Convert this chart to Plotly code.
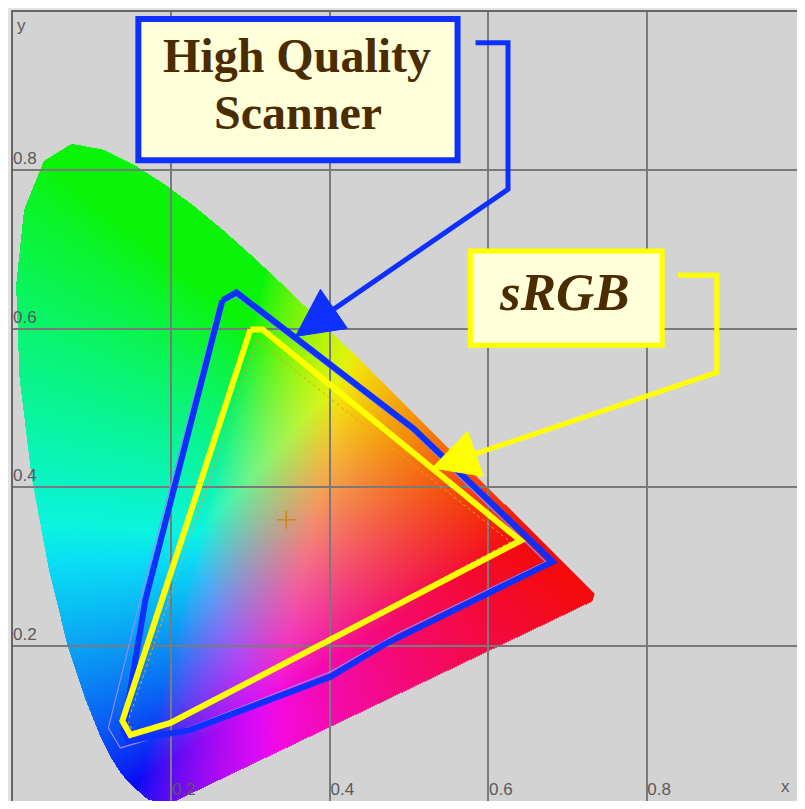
import base64
import struct
import zlib

import numpy as np
import plotly.graph_objects as go

# ---------------- data ----------------
# CIE 1931 spectral locus (chromaticity x, y), 380-700 nm
LOCUS_X = [0.1741, 0.1740, 0.1738, 0.1736, 0.1733, 0.1730, 0.1726, 0.1721, 0.1714, 0.1703,
           0.1689, 0.1669, 0.1644, 0.1611, 0.1566, 0.1510, 0.1440, 0.1355, 0.1241, 0.1096,
           0.0913, 0.0687, 0.0454, 0.0235, 0.0082, 0.0039, 0.0139, 0.0389, 0.0743, 0.1142,
           0.1547, 0.1929, 0.2296, 0.2658, 0.3016, 0.3373, 0.3731, 0.4087, 0.4441, 0.4788,
           0.5125, 0.5448, 0.5752, 0.6029, 0.6270, 0.6482, 0.6658, 0.6801, 0.6915, 0.7006,
           0.7079, 0.7140, 0.7190, 0.7230, 0.7260, 0.7283, 0.7300, 0.7320, 0.7347]
LOCUS_Y = [0.0050, 0.0050, 0.0049, 0.0049, 0.0048, 0.0048, 0.0048, 0.0048, 0.0051, 0.0058,
           0.0069, 0.0086, 0.0109, 0.0138, 0.0177, 0.0227, 0.0297, 0.0399, 0.0578, 0.0868,
           0.1327, 0.2007, 0.2950, 0.4127, 0.5384, 0.6548, 0.7502, 0.8120, 0.8338, 0.8262,
           0.8059, 0.7816, 0.7543, 0.7243, 0.6923, 0.6589, 0.6245, 0.5896, 0.5547, 0.5202,
           0.4866, 0.4544, 0.4242, 0.3965, 0.3725, 0.3514, 0.3340, 0.3197, 0.3083, 0.2993,
           0.2920, 0.2859, 0.2809, 0.2770, 0.2740, 0.2717, 0.2700, 0.2680, 0.2653]
# line of purples as it appears in the picture
PURPLE_X = [0.7316, 0.1930]
PURPLE_Y = [0.2560, -0.0020]

# High quality scanner gamut (thick outline)
SCANNER_X = [0.2644, 0.2821, 0.5057, 0.6814, 0.4678, 0.4009, 0.2240, 0.1457, 0.1394, 0.1672, 0.2644]
SCANNER_Y = [0.6359, 0.6460, 0.4741, 0.3059, 0.2010, 0.1606, 0.0936, 0.0796, 0.0923, 0.2579, 0.6359]
# thin measured scanner outline
SCANNER_THIN_X = [0.2821, 0.5045, 0.6725, 0.4893, 0.4009, 0.2240, 0.1356, 0.1204, 0.1608, 0.2594, 0.2821]
SCANNER_THIN_Y = [0.6410, 0.4703, 0.3059, 0.2174, 0.1669, 0.0973, 0.0708, 0.0961, 0.2579, 0.6309, 0.6410]

# sRGB gamut (thick outline)
SRGB_X = [0.2998, 0.3150, 0.6409, 0.2240, 0.1987, 0.1482, 0.1381, 0.2998]
SRGB_Y = [0.5992, 0.5992, 0.3325, 0.1150, 0.1024, 0.0872, 0.1049, 0.5992]
# thin sRGB outline
SRGB_THIN_X = [0.3080, 0.6280, 0.2050, 0.1520, 0.1450, 0.3080]
SRGB_THIN_Y = [0.5860, 0.3310, 0.1050, 0.0920, 0.1040, 0.5860]

WHITE_X = [0.345]
WHITE_Y = [0.359]

X_TICKS = [0, 0.2, 0.4, 0.6, 0.8]
X_TICK_TEXT = ["0", "0.2", "0.4", "0.6", "0.8"]
Y_TICKS = [0.2, 0.4, 0.6, 0.8]
Y_TICK_TEXT = ["0.2", "0.4", "0.6", "0.8"]

# ---------------- colour rendering of the horseshoe ----------------
IMG_X0, IMG_X1 = 0.0, 0.75
IMG_Y0, IMG_Y1 = -0.01, 0.85
NX, NY = 594, 680

bx = np.array(LOCUS_X + PURPLE_X)
by = np.array(LOCUS_Y + PURPLE_Y)

xs = IMG_X0 + (np.arange(NX) + 0.5) * (IMG_X1 - IMG_X0) / NX
ys = IMG_Y1 - (np.arange(NY) + 0.5) * (IMG_Y1 - IMG_Y0) / NY
GX, GY = np.meshgrid(xs, ys)

inside = np.zeros(GX.shape, dtype=bool)
n = len(bx)
for i in range(n):
    x1, y1 = bx[i], by[i]
    x2, y2 = bx[(i + 1) % n], by[(i + 1) % n]
    cond = (y1 > GY) != (y2 > GY)
    with np.errstate(divide="ignore", invalid="ignore"):
        xint = x1 + (GY - y1) * (x2 - x1) / (y2 - y1)
    inside ^= cond & (GX < xint)

prim = [(0.64, 0.33), (0.30, 0.60), (0.16, 0.03)]
P = np.array([[px / py, 1.0, (1 - px - py) / py] for px, py in prim]).T
W = np.array([0.9505, 1.0, 1.089])
S = np.linalg.solve(P, W)
M = P * S
Minv = np.linalg.inv(M)

yy = np.maximum(GY, 0.004)
XYZ = np.stack([GX / yy, np.ones_like(GX), (1 - GX - yy) / yy], axis=-1)
rgb = XYZ @ Minv.T
rgb = np.clip(rgb, 0, None)
rgb = rgb / np.maximum(rgb.sum(axis=-1, keepdims=True), 1e-9) * 1.9
rgb = np.clip(rgb, 0, 1) ** 0.9
rgb = rgb * 0.92 + 0.04
img = np.zeros((NY, NX, 4), dtype=np.uint8)
img[..., :3] = (np.clip(rgb, 0, 1) * 255).astype(np.uint8)
img[..., 3] = np.where(inside, 255, 0)


def png_uri(a):
    h, w, _ = a.shape
    raw = b"".join(b"\x00" + a[r].tobytes() for r in range(h))

    def chunk(t, d):
        c = struct.pack(">I", len(d)) + t + d
        return c + struct.pack(">I", zlib.crc32(t + d) & 0xFFFFFFFF)

    data = b"\x89PNG\r\n\x1a\n" + chunk(b"IHDR", struct.pack(">IIBBBBB", w, h, 8, 6, 0, 0, 0))
    data += chunk(b"IDAT", zlib.compress(raw, 9)) + chunk(b"IEND", b"")
    return "data:image/png;base64," + base64.b64encode(data).decode()


# ---------------- figure ----------------
BLUE = "#0d30ff"
YELLOW = "#ffff00"
BROWN = "#4b2c00"
BOXFILL = "#ffffda"
TICKFONT = dict(family="Liberation Sans", size=17, color="#5a5a5a")

fig = go.Figure()
fig.add_layout_image(dict(source=png_uri(img), xref="x", yref="y", x=IMG_X0, y=IMG_Y1,
                          sizex=IMG_X1 - IMG_X0, sizey=IMG_Y1 - IMG_Y0, sizing="stretch",
                          xanchor="left", yanchor="top", layer="below"))

fig.add_trace(go.Scatter(x=SCANNER_THIN_X, y=SCANNER_THIN_Y, mode="lines",
                         line=dict(color="#8c8cff", width=1.2), hoverinfo="skip"))
fig.add_trace(go.Scatter(x=SRGB_THIN_X, y=SRGB_THIN_Y, mode="lines",
                         line=dict(color="#e0a040", width=1, dash="dot"), hoverinfo="skip"))
fig.add_trace(go.Scatter(x=SCANNER_X, y=SCANNER_Y, mode="lines",
                         line=dict(color=BLUE, width=6), hoverinfo="skip"))
fig.add_trace(go.Scatter(x=SRGB_X, y=SRGB_Y, mode="lines",
                         line=dict(color=YELLOW, width=6), hoverinfo="skip"))
fig.add_trace(go.Scatter(x=WHITE_X, y=WHITE_Y, mode="markers",
                         marker=dict(symbol="cross-thin", size=13, color="#c98a1a",
                                     line=dict(color="#c98a1a", width=1.6)),
                         hoverinfo="skip"))

# callout boxes
fig.add_shape(type="rect", xref="x", yref="y", x0=0.1583, x1=0.5613, y0=0.8129, y1=0.9912,
              line=dict(color=BLUE, width=6), fillcolor=BOXFILL)
fig.add_shape(type="rect", xref="x", yref="y", x0=0.5775, x1=0.8197, y0=0.5793, y1=0.6981,
              line=dict(color=YELLOW, width=5), fillcolor=BOXFILL)

# connectors
fig.add_shape(type="path", xref="x", yref="y",
              path="M 0.584 0.9612 L 0.6250 0.9612 L 0.6250 0.7762 L 0.4047 0.6245",
              line=dict(color=BLUE, width=5))
fig.add_shape(type="path", xref="x", yref="y",
              path="M 0.3567 0.5904 L 0.3882 0.6498 L 0.4223 0.6005 Z",
              line=dict(color=BLUE, width=1), fillcolor=BLUE)
fig.add_shape(type="path", xref="x", yref="y",
              path="M 0.8397 0.6675 L 0.8886 0.6675 L 0.8886 0.5449 L 0.5838 0.4422",
              line=dict(color=YELLOW, width=5))
fig.add_shape(type="path", xref="x", yref="y",
              path="M 0.5294 0.4244 L 0.5740 0.4707 L 0.5938 0.4138 Z",
              line=dict(color=YELLOW, width=1), fillcolor=YELLOW)

SERIF_B = dict(family="Liberation Serif", size=48, color=BROWN, weight="bold")
fig.add_annotation(x=0.3586, y=0.9453, xref="x", yref="y", text="High Quality",
                   showarrow=False, font=SERIF_B)
fig.add_annotation(x=0.3599, y=0.8736, xref="x", yref="y", text="Scanner",
                   showarrow=False, font=SERIF_B)
fig.add_annotation(x=0.6965, y=0.6465, xref="x", yref="y", text="sRGB", showarrow=False,
                   font=dict(family="Liberation Serif", size=53, color=BROWN, weight="bold", style="italic"))

fig.add_annotation(x=0.003, y=0.997, xref="x", yref="y", text="y", showarrow=False,
                   xanchor="left", yanchor="top", font=TICKFONT)
fig.add_annotation(x=0.984, y=0.008, xref="x", yref="y", text="x", showarrow=False,
                   xanchor="right", yanchor="bottom", font=TICKFONT)

fig.update_layout(
    width=789, height=793,
    margin=dict(l=5, r=0, t=4, b=0),
    paper_bgcolor="#e2e2e2", plot_bgcolor="#d3d3d3",
    showlegend=False,
    xaxis=dict(range=[0, 0.9899], tickvals=X_TICKS, ticktext=X_TICK_TEXT, ticks="",
               ticklabelposition="inside right", showgrid=True, gridcolor="#7a7a7a", gridwidth=1.6,
               zeroline=False, showline=True, linecolor="#666666", linewidth=1.5, mirror=True,
               tickfont=TICKFONT),
    yaxis=dict(range=[0.0038, 1.0], tickvals=Y_TICKS, ticktext=Y_TICK_TEXT, ticks="",
               ticklabelposition="inside top", showgrid=True, gridcolor="#7a7a7a", gridwidth=1.6,
               zeroline=False, showline=True, linecolor="#666666", linewidth=1.5,
               tickfont=TICKFONT),
)

fig.write_html("out.html")
